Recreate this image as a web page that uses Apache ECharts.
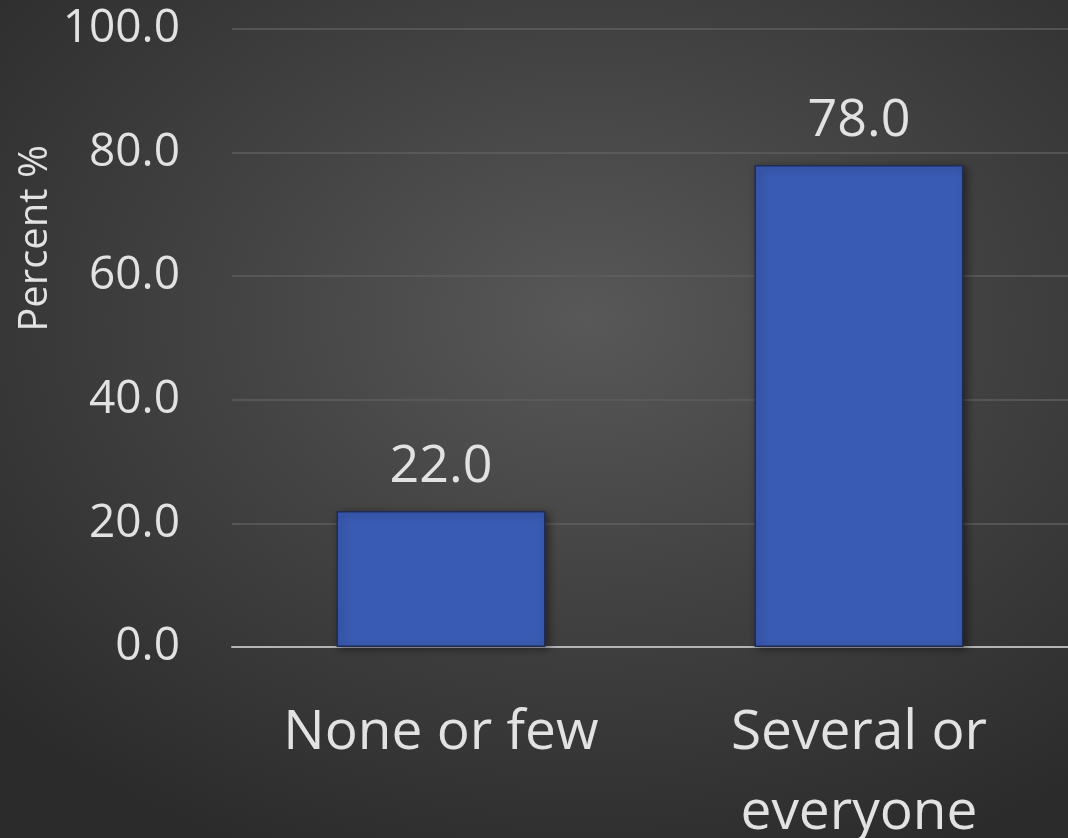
<!DOCTYPE html>
<html>
<head>
<meta charset="utf-8">
<script src="https://cdn.jsdelivr.net/npm/echarts@6/dist/echarts.min.js"></script>
<style>
  html, body { margin: 0; padding: 0; }
  #chart {
    width: 1068px;
    height: 838px;
    background: radial-gradient(ellipse 75% 70% at 55% 38%, #585858 0%, #434343 45%, #2b2b2b 100%);
  }
</style>
</head>
<body>
<div id="chart"></div>
<script>
const categories = ['None or few', 'Several or\neveryone'];
const percentValues = [22.0, 78.0];
const yTicks = { min: 0, max: 100, interval: 20 };

const font = '"Open Sans", "Noto Sans", sans-serif';
const textColor = '#e2e2e2';

const myChart = echarts.init(document.getElementById('chart'));

const option = {
  backgroundColor: 'transparent',
  animation: false,
  grid: { left: 232, right: 0, top: 29, bottom: 191, outerBoundsMode: 'none', containLabel: false },
  xAxis: {
    type: 'category',
    data: categories,
    axisLine: { lineStyle: { color: '#b4b4b4', width: 2 } },
    axisTick: { show: false },
    axisLabel: {
      color: textColor,
      fontFamily: font,
      fontSize: 55,
      lineHeight: 80,
      margin: 46
    }
  },
  yAxis: {
    type: 'value',
    min: yTicks.min,
    max: yTicks.max,
    interval: yTicks.interval,
    axisLine: { show: false },
    axisTick: { show: false },
    splitLine: { lineStyle: { color: '#5e5e5e', width: 1.5 } },
    axisLabel: {
      color: textColor,
      fontFamily: font,
      fontSize: 46,
      margin: 52,
      formatter: v => v.toFixed(1)
    }
  },
  graphic: [{
    type: 'text',
    left: 16,
    top: 145,
    rotation: Math.PI / 2,
    style: {
      text: 'Percent %',
      fill: textColor,
      font: '40px ' + font
    }
  }],
  series: [{
    type: 'bar',
    data: percentValues,
    barWidth: '50%',
    itemStyle: {
      color: '#3a5bb3',
      borderColor: '#1e2c55',
      borderWidth: 1.5,
      shadowColor: 'rgba(0,0,0,0.45)',
      shadowBlur: 8,
      shadowOffsetX: 3,
      shadowOffsetY: 2
    },
    label: {
      show: true,
      position: 'top',
      distance: 18,
      color: textColor,
      fontFamily: font,
      fontSize: 52,
      formatter: p => p.value.toFixed(1)
    }
  }]
};

myChart.setOption(option, true);
</script>
</body>
</html>
